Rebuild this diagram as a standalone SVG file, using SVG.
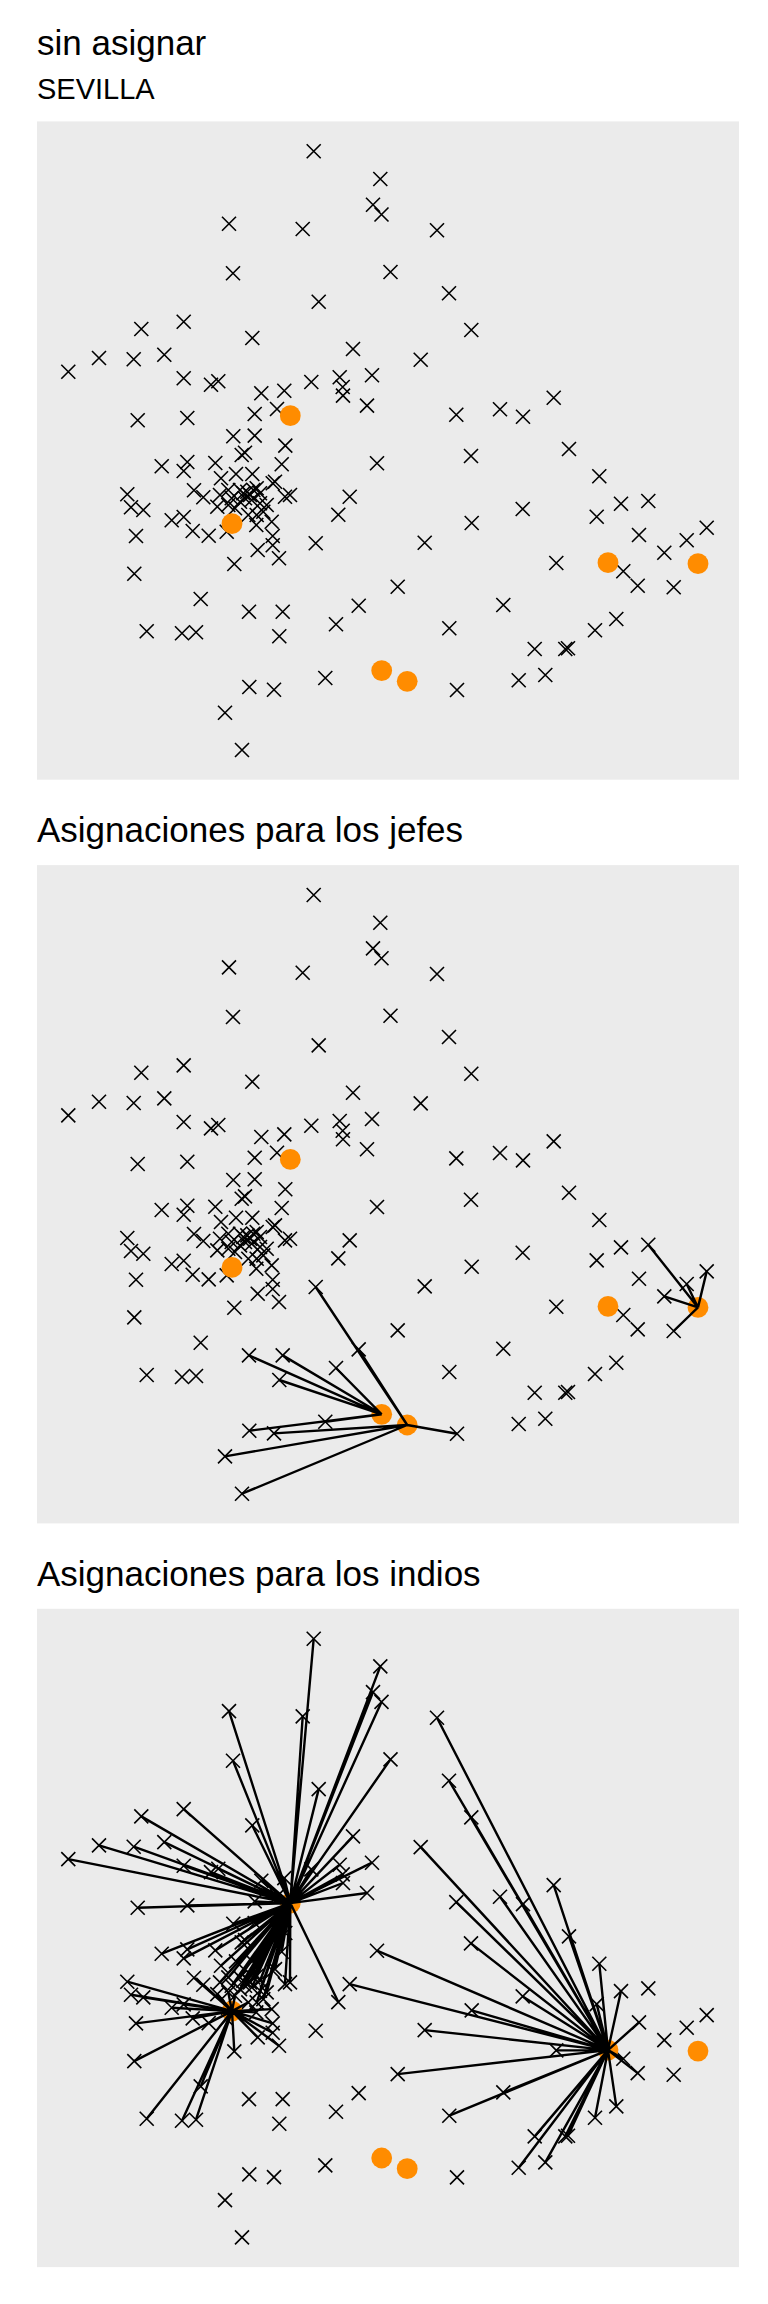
<svg xmlns="http://www.w3.org/2000/svg" xmlns:xlink="http://www.w3.org/1999/xlink" width="768" height="2304" viewBox="0 0 768 2304">
<style>
text{font-family:"Liberation Sans",Arial,sans-serif;fill:#000}
.t{font-size:35px}
.s{font-size:29px}
.bg{fill:#ebebeb}
.x{fill:none;stroke:#000;stroke-width:1.6}
.h{fill:#ff8c00}
.c{fill:none;stroke:#000;stroke-width:2.4}
</style>
<defs>
<path id="x" d="M-7-7L7 7M-7 7L7-7"/>
<g id="crosses" class="x">
<use href="#x" x="313.7" y="151.3"/><use href="#x" x="380.3" y="179"/><use href="#x" x="373" y="204.7"/><use href="#x" x="381.5" y="214.5"/><use href="#x" x="229" y="223.7"/><use href="#x" x="302.7" y="229"/><use href="#x" x="233" y="273.3"/><use href="#x" x="390.5" y="272"/><use href="#x" x="318.7" y="301.7"/><use href="#x" x="141.3" y="329"/><use href="#x" x="183.7" y="321.7"/><use href="#x" x="252.3" y="338"/><use href="#x" x="353" y="349"/><use href="#x" x="68.3" y="371.7"/><use href="#x" x="99" y="358"/><use href="#x" x="133.7" y="359.3"/><use href="#x" x="164.3" y="354.7"/><use href="#x" x="183.7" y="378.3"/><use href="#x" x="211" y="384.7"/><use href="#x" x="218.3" y="381.3"/><use href="#x" x="261.3" y="393.3"/><use href="#x" x="284.3" y="390.7"/><use href="#x" x="311.3" y="382"/><use href="#x" x="339.7" y="377.3"/><use href="#x" x="342.7" y="387"/><use href="#x" x="343" y="395.6"/><use href="#x" x="372" y="375.3"/><use href="#x" x="367" y="405.6"/><use href="#x" x="277" y="409"/><use href="#x" x="254.7" y="414"/><use href="#x" x="187.3" y="418"/><use href="#x" x="137.7" y="420.3"/><use href="#x" x="233.3" y="436.3"/><use href="#x" x="254.7" y="435.6"/><use href="#x" x="285.3" y="445.6"/><use href="#x" x="241.7" y="455"/><use href="#x" x="245" y="452.7"/><use href="#x" x="281.7" y="464.3"/><use href="#x" x="161.7" y="466.3"/><use href="#x" x="187.3" y="462"/><use href="#x" x="183.7" y="471"/><use href="#x" x="215.3" y="463"/><use href="#x" x="377" y="463.3"/><use href="#x" x="221" y="478.3"/><use href="#x" x="236" y="474"/><use href="#x" x="252.3" y="474"/>
<use href="#x" x="220" y="495"/><use href="#x" x="228.3" y="490"/><use href="#x" x="231.7" y="498.3"/><use href="#x" x="228.3" y="505"/><use href="#x" x="240" y="490"/><use href="#x" x="243.3" y="493.3"/><use href="#x" x="247.3" y="491.7"/><use href="#x" x="250" y="495"/><use href="#x" x="253.3" y="490"/><use href="#x" x="256.7" y="488.3"/><use href="#x" x="260" y="493.3"/><use href="#x" x="245" y="498.3"/><use href="#x" x="251.7" y="500"/><use href="#x" x="240" y="501.7"/><use href="#x" x="260" y="503.3"/><use href="#x" x="266.7" y="505"/><use href="#x" x="235" y="508.3"/><use href="#x" x="248.3" y="515"/><use href="#x" x="256.7" y="515"/><use href="#x" x="263.3" y="511.7"/><use href="#x" x="217.3" y="506.7"/><use href="#x" x="275" y="481.7"/><use href="#x" x="272.7" y="483.3"/><use href="#x" x="285" y="496.7"/><use href="#x" x="290" y="495"/>
<use href="#x" x="194" y="490.3"/><use href="#x" x="203.3" y="497.3"/><use href="#x" x="127.3" y="494.3"/><use href="#x" x="131" y="507.3"/><use href="#x" x="143.3" y="510"/><use href="#x" x="349.7" y="496.7"/><use href="#x" x="338.3" y="514.7"/><use href="#x" x="171.7" y="520.3"/><use href="#x" x="183.7" y="517"/><use href="#x" x="192.7" y="531"/><use href="#x" x="208.7" y="535.7"/><use href="#x" x="226.7" y="531.7"/><use href="#x" x="136" y="536"/><use href="#x" x="134.3" y="573.7"/><use href="#x" x="234.3" y="564"/><use href="#x" x="256.3" y="525"/><use href="#x" x="271.7" y="521.7"/><use href="#x" x="272.7" y="536"/><use href="#x" x="272.7" y="545.3"/><use href="#x" x="257.7" y="550"/><use href="#x" x="279" y="558.3"/><use href="#x" x="315.7" y="543.3"/><use href="#x" x="200.7" y="599"/><use href="#x" x="249" y="611.7"/><use href="#x" x="282.7" y="611.7"/><use href="#x" x="279.3" y="636.3"/><use href="#x" x="358.7" y="605.7"/><use href="#x" x="336" y="624.3"/><use href="#x" x="146.7" y="631.3"/><use href="#x" x="182" y="633.3"/><use href="#x" x="196" y="632.3"/><use href="#x" x="325.3" y="678"/><use href="#x" x="249.3" y="687"/><use href="#x" x="274" y="689.7"/><use href="#x" x="225" y="712.7"/><use href="#x" x="242" y="750"/>
<use href="#x" x="437" y="230.3"/><use href="#x" x="449" y="293.3"/><use href="#x" x="471.3" y="330"/><use href="#x" x="420.7" y="359.7"/><use href="#x" x="456.3" y="414.7"/><use href="#x" x="500" y="409.3"/><use href="#x" x="523" y="416.7"/><use href="#x" x="553.7" y="397.7"/><use href="#x" x="471" y="456"/><use href="#x" x="569" y="449"/><use href="#x" x="599.3" y="476.3"/><use href="#x" x="621" y="503.7"/><use href="#x" x="648.3" y="501"/><use href="#x" x="596.7" y="516.7"/><use href="#x" x="522.7" y="509"/><use href="#x" x="471.7" y="523"/><use href="#x" x="424.7" y="542.7"/><use href="#x" x="639" y="535"/><use href="#x" x="706.7" y="527.7"/><use href="#x" x="686.7" y="540.3"/><use href="#x" x="664.3" y="552.7"/><use href="#x" x="556.3" y="563"/><use href="#x" x="623.3" y="571.3"/><use href="#x" x="637.7" y="585.7"/><use href="#x" x="673.7" y="587.3"/><use href="#x" x="397.7" y="586.7"/><use href="#x" x="503.3" y="605"/><use href="#x" x="449.3" y="628.3"/><use href="#x" x="616.3" y="619"/><use href="#x" x="595" y="630.3"/><use href="#x" x="534.7" y="649"/><use href="#x" x="565.3" y="649"/><use href="#x" x="568" y="648.3"/><use href="#x" x="518.7" y="680.3"/><use href="#x" x="545.3" y="675"/><use href="#x" x="457" y="690"/>
</g>
<g id="hubs" class="h">
<circle cx="290.3" cy="415.7" r="10.4"/><circle cx="232" cy="523.7" r="10.4"/><circle cx="608" cy="562.7" r="10.4"/><circle cx="698" cy="563.7" r="10.4"/><circle cx="381.7" cy="670.6" r="10.4"/><circle cx="407.2" cy="681.3" r="10.4"/>
</g>
</defs>
<rect width="768" height="2304" fill="#fff"/>
<g id="panel-sin-asignar">
<text class="t" x="37" y="54.5">sin asignar</text>
<text class="s" x="37" y="99">SEVILLA</text>
<rect class="bg" x="37" y="121.4" width="702" height="658.3"/>
<use href="#crosses"/>
<use href="#hubs"/>
</g>
<g id="panel-jefes">
<text class="t" x="37" y="842.3">Asignaciones para los jefes</text>
<g transform="translate(0 743.7)">
<rect class="bg" x="37" y="121.4" width="702" height="658.3"/>
<use href="#crosses"/>
<use href="#hubs"/>
<g id="connectors-jefes" class="c">
<path d="M381.7 670.6L249 611.7M381.7 670.6L282.7 611.7M381.7 670.6L279.3 636.3M381.7 670.6L336 624.3M381.7 670.6L325.3 678M381.7 670.6L249.3 687"/>
<path d="M407.2 681.3L315.7 543.3M407.2 681.3L358.7 605.7M407.2 681.3L274 689.7M407.2 681.3L225 712.7M407.2 681.3L242 750M407.2 681.3L457 690"/>
<path d="M698 563.7L648.3 501M698 563.7L686.7 540.3M698 563.7L706.7 527.7M698 563.7L673.7 587.3M698 563.7L664.3 552.7"/>
</g>
</g>
</g>
<g id="panel-indios">
<text class="t" x="37" y="1586">Asignaciones para los indios</text>
<g transform="translate(0 1487.4)">
<rect class="bg" x="37" y="121.4" width="702" height="658.3"/>
<use href="#crosses"/>
<use href="#hubs"/>
<g id="connectors-indios" class="c">
<path d="M290.3 415.7L313.7 151.3M290.3 415.7L380.3 179M290.3 415.7L373 204.7M290.3 415.7L381.5 214.5M290.3 415.7L229 223.7M290.3 415.7L302.7 229M290.3 415.7L233 273.3M290.3 415.7L390.5 272M290.3 415.7L318.7 301.7M290.3 415.7L141.3 329M290.3 415.7L183.7 321.7M290.3 415.7L252.3 338M290.3 415.7L353 349M290.3 415.7L68.3 371.7M290.3 415.7L99 358M290.3 415.7L133.7 359.3M290.3 415.7L164.3 354.7M290.3 415.7L183.7 378.3M290.3 415.7L211 384.7M290.3 415.7L218.3 381.3M290.3 415.7L261.3 393.3M290.3 415.7L284.3 390.7M290.3 415.7L311.3 382M290.3 415.7L339.7 377.3M290.3 415.7L342.7 387M290.3 415.7L343 395.6M290.3 415.7L372 375.3M290.3 415.7L367 405.6M290.3 415.7L277 409M290.3 415.7L254.7 414M290.3 415.7L187.3 418M290.3 415.7L137.7 420.3M290.3 415.7L233.3 436.3M290.3 415.7L254.7 435.6M290.3 415.7L285.3 445.6M290.3 415.7L241.7 455M290.3 415.7L245 452.7M290.3 415.7L281.7 464.3M290.3 415.7L161.7 466.3M290.3 415.7L187.3 462M290.3 415.7L183.7 471M290.3 415.7L215.3 463M290.3 415.7L221 478.3M290.3 415.7L236 474M290.3 415.7L252.3 474M290.3 415.7L220 495M290.3 415.7L228.3 490M290.3 415.7L231.7 498.3M290.3 415.7L240 490M290.3 415.7L243.3 493.3M290.3 415.7L247.3 491.7M290.3 415.7L250 495M290.3 415.7L253.3 490M290.3 415.7L256.7 488.3M290.3 415.7L260 493.3M290.3 415.7L245 498.3M290.3 415.7L251.7 500M290.3 415.7L240 501.7M290.3 415.7L260 503.3M290.3 415.7L266.7 505M290.3 415.7L256.7 515M290.3 415.7L263.3 511.7M290.3 415.7L275 481.7M290.3 415.7L272.7 483.3M290.3 415.7L285 496.7M290.3 415.7L290 495M290.3 415.7L338.3 514.7"/>
<path d="M232 523.7L127.3 494.3M232 523.7L131 507.3M232 523.7L143.3 510M232 523.7L136 536M232 523.7L134.3 573.7M232 523.7L146.7 631.3M232 523.7L182 633.3M232 523.7L196 632.3M232 523.7L200.7 599M232 523.7L234.3 564M232 523.7L279 558.3M232 523.7L272.7 545.3M232 523.7L272.7 536M232 523.7L257.7 550M232 523.7L194 490.3M232 523.7L203.3 497.3M232 523.7L226.7 531.7M232 523.7L208.7 535.7M232 523.7L192.7 531M232 523.7L171.7 520.3M232 523.7L183.7 517M232 523.7L256.3 525M232 523.7L271.7 521.7M232 523.7L217.3 506.7M232 523.7L228.3 505M232 523.7L235 508.3M232 523.7L248.3 515"/>
<path d="M608 562.7L437 230.3M608 562.7L449 293.3M608 562.7L471.3 330M608 562.7L420.7 359.7M608 562.7L456.3 414.7M608 562.7L500 409.3M608 562.7L523 416.7M608 562.7L553.7 397.7M608 562.7L471 456M608 562.7L569 449M608 562.7L599.3 476.3M608 562.7L621 503.7M608 562.7L639 535M608 562.7L596.7 516.7M608 562.7L522.7 509M608 562.7L471.7 523M608 562.7L377 463.3M608 562.7L349.7 496.7M608 562.7L424.7 542.7M608 562.7L556.3 563M608 562.7L623.3 571.3M608 562.7L637.7 585.7M608 562.7L397.7 586.7M608 562.7L503.3 605M608 562.7L449.3 628.3M608 562.7L616.3 619M608 562.7L595 630.3M608 562.7L534.7 649M608 562.7L565.3 649M608 562.7L568 648.3M608 562.7L518.7 680.3M608 562.7L545.3 675"/>
</g>
</g>
</g>
</svg>
